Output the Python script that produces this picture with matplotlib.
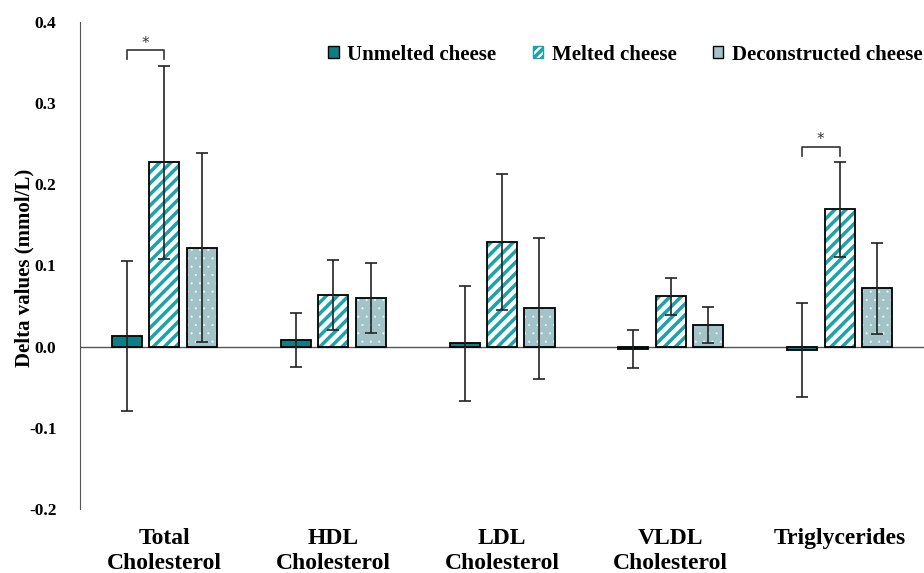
import numpy as np
import matplotlib
matplotlib.use("Agg")
import matplotlib.pyplot as plt
from matplotlib.patches import Patch

plt.rcParams['font.family'] = ['Liberation Serif', 'DejaVu Serif']
plt.rcParams['font.weight'] = 'bold'
plt.rcParams['hatch.linewidth'] = 2.5

categories = ['Total\nCholesterol', 'HDL\nCholesterol', 'LDL\nCholesterol',
              'VLDL\nCholesterol', 'Triglycerides']
series = ['Unmelted cheese', 'Melted cheese', 'Deconstructed cheese']

unmelted = [0.013, 0.008, 0.004, -0.003, -0.004]
melted = [0.227, 0.064, 0.129, 0.062, 0.169]
decon = [0.122, 0.060, 0.047, 0.027, 0.072]

unmelted_err = [0.092, 0.033, 0.071, 0.023, 0.058]
melted_err = [0.119, 0.043, 0.084, 0.023, 0.059]
decon_err = [0.116, 0.043, 0.087, 0.022, 0.056]

teal = '#0b7f86'
stripe = '#1aa3a8'
grey = '#a2c4c8'

fig = plt.figure(figsize=(9.24, 5.73), dpi=100)
ax = fig.add_axes([0.0866, 0.1117, 0.9134, 0.85])

x = np.arange(len(categories))
off = 0.222
w = 0.178
ekw = dict(fmt='none', ecolor='#222222', elinewidth=1.2, capsize=4, capthick=1.2, zorder=5)

# unmelted
ax.bar(x - off, unmelted, w, color=teal, edgecolor='black', linewidth=1.3, zorder=3)
ax.errorbar(x - off, unmelted, yerr=unmelted_err, **ekw)

# melted: hatched stripes
ax.bar(x, melted, w, color='white', edgecolor=stripe, hatch='///', linewidth=0, zorder=3)
ax.bar(x, melted, w, color='none', edgecolor='black', linewidth=1.3, zorder=4)
ax.errorbar(x, melted, yerr=melted_err, **ekw)

# deconstructed: small white dots
dots = ax.bar(x + off, decon, w, color=grey, edgecolor='#eef6f7', hatch='..', linewidth=0, zorder=3)
for p in dots:
    if hasattr(p, 'set_hatch_linewidth'):
        p.set_hatch_linewidth(0.3)
ax.bar(x + off, decon, w, color='none', edgecolor='black', linewidth=1.3, zorder=4)
ax.errorbar(x + off, decon, yerr=decon_err, **ekw)

ax.axhline(0, color='#555555', linewidth=1, zorder=2)

# significance brackets
def bracket(i, y):
    x0, x1 = i - off, i
    ax.plot([x0, x0, x1, x1], [y - 0.011, y, y, y - 0.011], color='#333333', lw=1.2)
    ax.text((x0 + x1) / 2, y + 0.009, '*', ha='center', va='center', fontsize=11,
            fontweight='normal', family='DejaVu Sans', color='#333333')

bracket(0, 0.365)
bracket(4, 0.246)

ax.set_xlim(-0.5, 4.5)
ax.set_ylim(-0.2, 0.4)
ax.set_yticks(np.arange(-0.2, 0.41, 0.1))
ax.set_yticklabels([f'{v:.1f}' for v in np.arange(-0.2, 0.41, 0.1)], fontsize=12.5, fontweight='bold')
ax.tick_params(axis='y', length=0, pad=17)
ax.set_xticks(x)
ax.set_xticklabels(categories, fontsize=17, fontweight='bold', linespacing=1.2)
ax.tick_params(axis='x', length=0, pad=14)
for s in ['top', 'right', 'bottom']:
    ax.spines[s].set_visible(False)
ax.spines['left'].set_color('#555555')
ax.set_ylabel('Delta values (mmol/L)', fontsize=15, fontweight='bold')
ax.yaxis.set_label_coords(-0.054, 0.495)

handles = [Patch(facecolor=teal, edgecolor='black'),
           Patch(facecolor='white', edgecolor=stripe, hatch='////'),
           Patch(facecolor=grey, edgecolor='black')]
leg = ax.legend(handles, series, loc='upper right', bbox_to_anchor=(1.02, 0.992), ncol=3,
                frameon=False, prop={'size': 15, 'weight': 'bold'},
                handlelength=0.5, handleheight=0.5, handletextpad=0.4, columnspacing=1.75)

fig.savefig('out.png', dpi=100)
